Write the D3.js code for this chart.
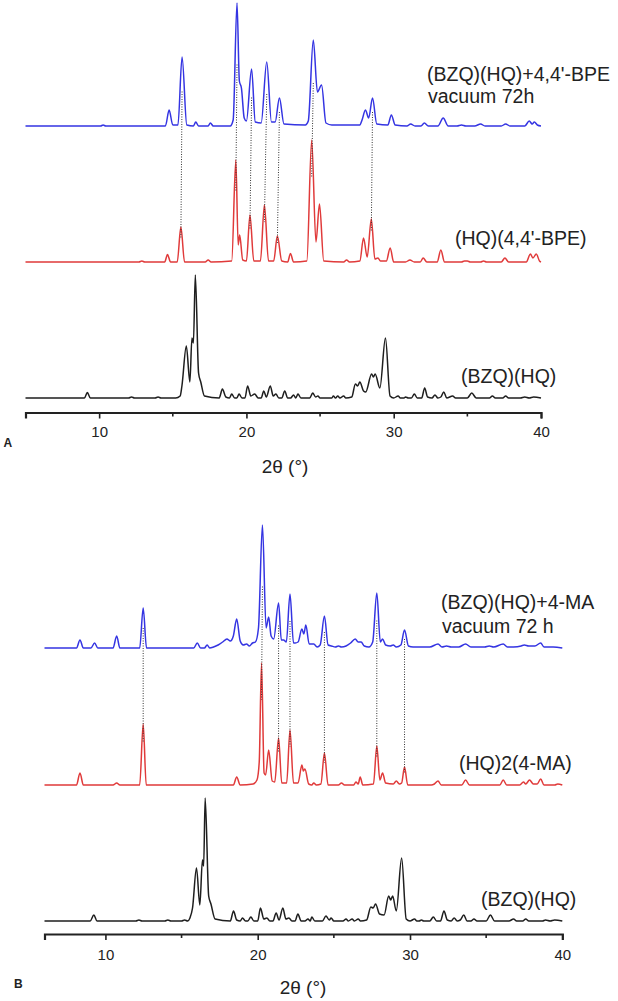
<!DOCTYPE html>
<html><head><meta charset="utf-8">
<script src="https://cdn.jsdelivr.net/npm/d3@7"></script>
<style>body{margin:0;background:#fff}svg{display:block}text{font-family:"Liberation Sans",Arial,sans-serif;fill:#222}</style>
</head><body><svg id="c" width="618" height="1001"></svg>
<script>
// ---- data: [2θ, relative intensity] points ----
const blueA=[[5,0],[10.1,0],[10.27,1],[10.45,0],[14.5,0],[14.75,16],[15.0,1],[15.35,1],[15.63,69],[15.95,1],[16.4,0],[16.56,4],[16.75,0],[17.4,0],[17.55,3],[17.75,0],[18.9,0],[19.1,6],[19.36,123],[19.52,45],[19.66,38],[19.85,8],[20.0,5],[20.35,57],[20.6,4],[21.0,3],[21.38,64],[21.7,4],[21.95,4],[22.24,28],[22.55,2],[24.0,1],[24.2,5],[24.54,86],[24.82,34],[25.1,41],[25.4,3],[25.8,1],[27.7,1],[27.85,6],[28.08,16],[28.3,8],[28.56,28],[28.85,2],[29.6,1],[29.84,11],[30.1,1],[30.9,0],[31.15,2],[31.45,0],[31.85,0],[32.08,3],[32.35,0],[33.0,0],[33.36,8],[33.7,0],[34.3,0],[34.6,1],[34.9,0],[35.5,0],[35.9,2],[36.2,0],[37.3,0],[37.6,2],[37.9,0],[38.9,0],[39.2,5],[39.4,2],[39.55,4],[39.75,1],[40,0]];
const redA=[[5,0],[12.7,0],[12.9,1],[13.1,0],[14.45,0],[14.64,7.5],[14.85,0],[15.3,0],[15.55,35],[15.8,0],[17.2,0],[17.4,2],[17.6,0],[19.0,1],[19.28,102],[19.44,17],[19.54,27],[19.75,2],[20.0,1],[20.24,47],[20.5,1],[20.95,1],[21.22,57],[21.5,1],[21.85,1],[22.1,26],[22.4,1],[22.8,0],[22.99,8.5],[23.2,0],[24.1,1],[24.43,122],[24.72,20],[24.96,58],[25.25,1],[26.6,0],[26.8,2],[27.0,0],[27.7,1],[27.95,24],[28.2,5],[28.48,43],[28.72,3],[28.93,4],[29.1,1],[29.5,1],[29.76,14],[30.0,0],[30.8,0],[31.1,2],[31.4,0],[31.8,0],[32.0,4],[32.25,0],[32.95,0],[33.2,12],[33.45,0],[34.6,0],[34.8,1],[35.0,1],[35.2,0],[35.9,0],[36.1,1],[36.3,0],[37.3,0],[37.55,4],[37.8,0],[39.0,0],[39.28,8],[39.45,4],[39.68,8],[39.9,1],[40,0]];
const blackA=[[5,0],[9.0,0],[9.2,5.5],[9.4,0],[12.0,0],[12.2,1],[12.4,0],[13.8,0],[14.0,1],[14.2,0],[15.2,0],[15.5,2],[15.62,12],[15.92,52],[16.16,16],[16.3,60],[16.4,55],[16.53,123],[16.75,25],[16.9,16],[17.15,2],[18.15,0],[18.37,9],[18.6,1],[18.85,0],[19.0,4],[19.2,0],[19.35,0],[19.5,4],[19.7,0],[19.9,0],[20.08,12],[20.3,2],[20.56,4],[20.8,0],[21.0,0],[21.18,7],[21.35,1],[21.62,12],[21.82,2],[22.0,4],[22.2,0],[22.4,0],[22.6,7],[22.8,0],[23.0,0],[23.2,3],[23.35,0],[23.5,4],[23.7,0],[24.3,0],[24.5,5],[24.7,1],[24.85,2],[25.0,0],[25.8,0],[25.9,2],[26.05,0],[26.2,2],[26.35,0],[26.6,2],[26.75,0],[27.15,1],[27.4,14],[27.55,12],[27.7,16],[27.95,7],[28.1,6],[28.5,24],[28.62,21],[28.74,24],[29.06,10],[29.44,60],[29.75,2],[30.0,0],[30.3,2],[30.45,0],[30.7,0],[30.8,1],[31.0,0],[31.2,0],[31.4,4],[31.6,0],[31.9,0],[32.1,10],[32.3,1],[32.6,0],[32.8,3],[33.0,0],[33.2,1],[33.4,6],[33.6,0],[34.0,2],[34.2,0],[35.0,0],[35.3,5],[35.6,0],[36.5,0],[36.7,2],[36.9,0],[37.4,0],[37.6,2],[37.8,0],[38.6,0],[38.9,1],[39.2,0],[39.5,1],[40,0]];

const blueB=[[6,0],[8.1,0],[8.33,8],[8.55,0],[9.05,0],[9.29,5],[9.5,0],[10.5,0],[10.74,12],[10.95,0],[12.25,0],[12.48,40],[12.7,0],[15.8,0],[16.03,5],[16.25,0],[16.5,0],[16.68,3],[16.85,0],[17.1,1],[17.4,3],[17.7,6],[17.98,9],[18.2,7],[18.4,12],[18.62,29],[18.85,7],[19.05,3],[19.27,4],[19.45,2],[19.66,5],[19.85,6],[20.05,20],[20.31,123],[20.55,20],[20.72,31],[20.88,12],[21.05,9],[21.37,45],[21.55,8],[21.7,8],[21.88,6],[22.12,54],[22.35,5],[22.46,5],[22.65,6],[22.9,19],[23.03,14],[23.16,23],[23.38,4],[23.68,4],[23.9,1],[24.1,3],[24.38,32],[24.62,3],[24.85,2],[25.1,1],[25.3,2],[25.5,1],[25.8,2],[26.1,5],[26.4,9],[26.6,6],[26.79,6],[27.0,2],[27.3,1],[27.55,6],[27.82,55],[28.05,6],[28.2,9],[28.4,3],[28.7,2],[28.9,3],[29.1,1],[29.4,3],[29.64,18],[29.9,2],[30.2,1],[30.5,1],[31.0,1],[31.3,1],[31.84,4],[32.1,1],[32.4,2],[32.7,1],[33.2,1],[33.65,4],[34.0,1],[34.5,1],[34.9,1],[35.2,2],[35.5,1],[36.12,4],[36.4,1],[36.8,1],[37.3,2],[37.5,3],[37.8,2],[38.2,2],[38.58,5],[38.8,1],[39.4,1],[40,0]];
const redB=[[6,0],[8.1,0],[8.33,12],[8.55,0],[10.5,0],[10.74,2],[10.95,0],[12.25,0],[12.48,61],[12.68,0],[18.4,0],[18.62,8],[18.85,0],[19.7,1],[19.95,5],[20.1,23],[20.25,122],[20.42,12],[20.52,10],[20.72,35],[20.95,4],[21.12,3],[21.37,47],[21.58,2],[21.9,2],[22.12,55],[22.35,2],[22.65,2],[22.9,20],[23.0,14],[23.1,16],[23.35,1],[23.55,0],[23.68,2],[23.85,0],[24.15,1],[24.38,32],[24.62,0],[25.3,0],[25.5,2],[25.7,0],[26.3,0],[26.45,3],[26.6,1],[26.73,8],[26.9,0],[27.6,1],[27.82,39],[28.02,5],[28.2,12],[28.4,2],[28.9,1],[29.1,4],[29.3,1],[29.45,2],[29.64,18],[29.85,0],[31.4,0],[31.6,1],[31.84,4],[32.05,0],[33.4,0],[33.65,5],[33.9,0],[35.9,0],[36.12,5],[36.35,0],[37.2,0],[37.45,3],[37.6,1],[37.85,5],[38.1,1],[38.35,1],[38.58,6],[38.8,0],[39.5,0],[39.7,1],[40,0]];
const blackB=[[6,0],[9.0,0],[9.24,6],[9.45,0],[12.0,0],[12.2,1],[12.4,0],[13.9,0],[14.1,1],[14.3,0],[15.0,0],[15.2,1],[15.4,0],[15.55,3],[15.72,13],[15.98,53],[16.2,16],[16.37,61],[16.45,55],[16.55,123],[16.78,25],[16.93,17],[17.2,2],[18.2,0],[18.41,10],[18.62,1],[18.85,0],[19.0,3],[19.2,0],[19.35,0],[19.55,4],[19.75,0],[20.0,0],[20.18,13],[20.4,2],[20.6,3],[20.8,0],[21.0,0],[21.21,8],[21.4,1],[21.65,13],[21.85,2],[22.05,3],[22.25,0],[22.45,0],[22.64,7],[22.85,0],[23.1,0],[23.3,2],[23.45,0],[23.55,4],[23.75,0],[24.25,0],[24.48,5],[24.7,1],[24.82,3],[25.0,0],[25.6,0],[25.8,2],[25.95,0],[26.2,2],[26.35,0],[26.6,2],[26.75,0],[27.15,1],[27.43,14],[27.58,13],[27.74,17],[28.0,7],[28.3,6],[28.6,25],[28.73,21],[28.86,25],[29.1,10],[29.45,63],[29.75,2],[30.0,0],[30.3,2],[30.45,0],[30.6,0],[30.75,1],[30.9,0],[31.3,0],[31.53,4],[31.75,0],[32.0,0],[32.23,10],[32.45,1],[32.7,0],[32.9,3],[33.1,0],[33.3,1],[33.53,6],[33.75,0],[34.0,0],[34.2,2],[34.4,0],[35.0,0],[35.28,6],[35.55,0],[36.5,0],[36.8,2],[37.0,0],[37.4,0],[37.6,2],[37.8,0],[38.7,0],[38.9,1],[39.2,0],[39.5,1],[40,0]];

// matching peaks joined by dotted guide lines: [2θ in upper trace, 2θ in middle trace]
const linksA=[[15.63,15.55],[19.36,19.28],[20.35,20.24],[21.38,21.22],[22.24,22.1],[24.54,24.43],[28.56,28.48]];
const linksB=[[12.48,12.48],[20.31,20.25],[21.37,21.37],[22.12,22.12],[24.38,24.38],[27.82,27.82],[29.64,29.64]];

const majorTicks=[10,20,30,40];
const minorTicks=[15,25,35];
const labelsA=["(BZQ)(HQ)+4,4'-BPE","vacuum 72h","(HQ)(4,4'-BPE)","(BZQ)(HQ)"];
const labelsB=["(BZQ)(HQ)+4-MA","vacuum 72 h","(HQ)2(4-MA)","(BZQ)(HQ)"];
const offsetsA=[272,136,0], offsetsB=[273,136,0];
const colors=["#3434e2","#e03a3a","#1e1e1e"];

const svg=d3.select("#c");

function panel(cfg){
  const g=svg.append("g");
  const x=d3.scaleLinear().domain(cfg.domain).range(cfg.xr);
  const y=d3.scaleLinear().domain([0,400]).range([cfg.base,cfg.base-400]);
  const traces=cfg.traces;
  const lookup=(arr,p)=>arr.reduce((a,b)=>Math.abs(b[0]-p)<Math.abs(a[0]-p)?b:a)[1];
  traces.forEach((t,i)=>{
    const line=d3.line().x(d=>x(d[0])).y(d=>y(d[1]+cfg.offsets[i])).curve(d3.curveMonotoneX);
    g.append("path").attr("d",line(t)).attr("fill","none").attr("stroke",colors[i]).attr("stroke-width",1.5).attr("stroke-linejoin","round");
  });
  g.selectAll("line.link").data(cfg.links).join("line").attr("class","link")
    .attr("x1",d=>x(d[0])).attr("x2",d=>x(d[1]))
    .attr("y1",d=>y(cfg.offsets[0]+lookup(traces[0],d[0])*0.5))
    .attr("y2",d=>y(cfg.offsets[1]+lookup(traces[1],d[1])*0.7))
    .attr("stroke","#333").attr("stroke-width",1).attr("stroke-dasharray","1,1.5");
  const ax=g.append("g").attr("transform",`translate(0,${cfg.axisY})`)
    .call(d3.axisBottom(x).tickValues(majorTicks).tickSize(6).tickSizeOuter(6).tickPadding(cfg.pad).tickFormat(d3.format("d")));
  ax.select(".domain").attr("stroke","#222").attr("stroke-width",2.2);
  ax.selectAll(".tick line").attr("stroke","#222").attr("stroke-width",1.6);
  ax.selectAll(".tick text").attr("font-size",15).attr("fill","#333").style("font-family","'Liberation Sans',Arial,sans-serif");
  ax.selectAll("line.minor").data(minorTicks).join("line").attr("class","minor")
    .attr("x1",d=>x(d)).attr("x2",d=>x(d)).attr("y1",0).attr("y2",4).attr("stroke","#222").attr("stroke-width",1.6);
  cfg.labels.forEach((s,i)=>{
    g.append("text").attr("x",cfg.labelPos[i][0]).attr("y",cfg.labelPos[i][1]).attr("font-size",19.5).text(s);
  });
  g.append("text").attr("x",cfg.titlePos[0]).attr("y",cfg.titlePos[1]).attr("text-anchor","middle").attr("font-size",19).text("2θ (°)");
  g.append("text").attr("x",cfg.letterPos[0]).attr("y",cfg.letterPos[1]).attr("font-size",12).attr("font-weight","bold").text(cfg.letter);
}

panel({domain:[5,40],xr:[25.5,541],base:398,axisY:412.5,pad:8,offsets:offsetsA,
  traces:[blueA,redA,blackA],links:linksA,labels:labelsA,
  labelPos:[[427,80.5],[428,103],[455,245],[461,383]],titlePos:[285,473],letterPos:[3.5,447],letter:"A"});
panel({domain:[6,40],xr:[44.5,562.3],base:921,axisY:934,pad:9,offsets:offsetsB,
  traces:[blueB,redB,blackB],links:linksB,labels:labelsB,
  labelPos:[[441,609],[442,633],[459,770],[481,906]],titlePos:[303,994],letterPos:[14,988],letter:"B"});
</script></body></html>
